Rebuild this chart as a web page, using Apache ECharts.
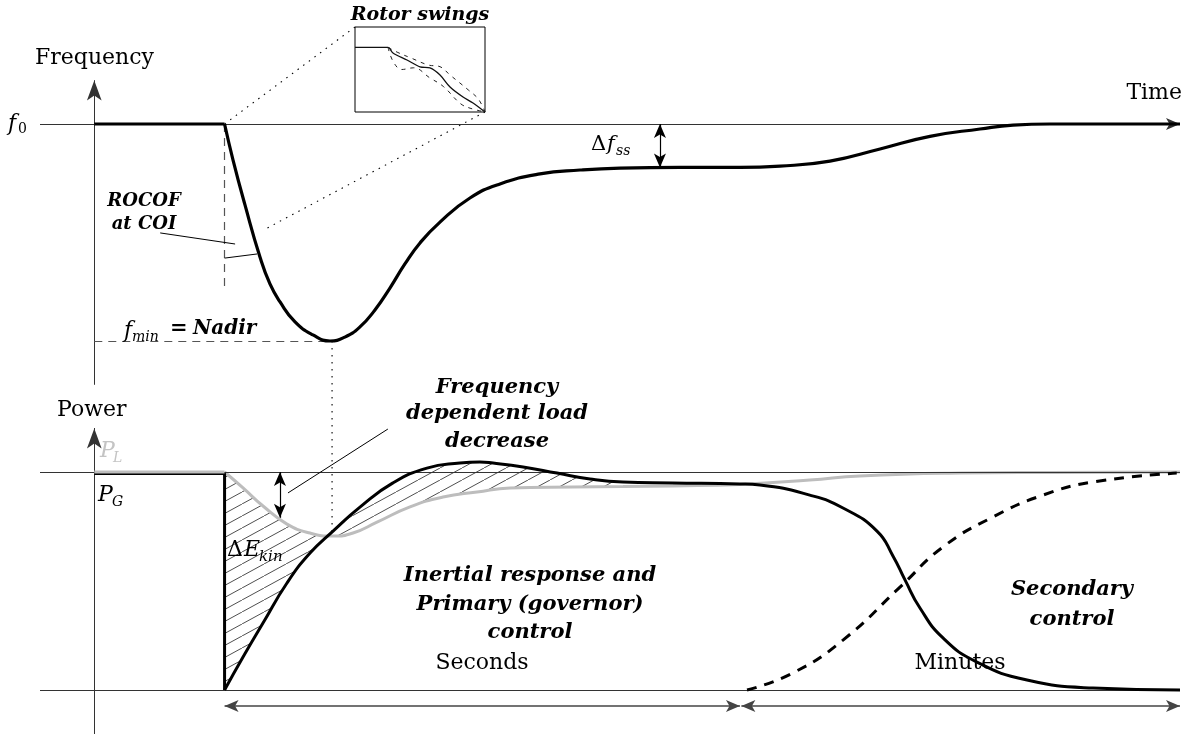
<!DOCTYPE html>
<html>
<head>
<meta charset="utf-8">
<script src="https://cdn.jsdelivr.net/npm/echarts@6/dist/echarts.min.js"></script>
<style>html,body{margin:0;padding:0;background:#fff;}</style>
</head>
<body>
<div id="main" style="width:1186px;height:742px;"></div>
<script type="text/javascript">
// time is in arbitrary units: 0 = the vertical axes, 12 = the disturbance
// frequency in Hz, power in p.u.
var freqFlat = [[0, 50], [12, 50]];
var freqCurve = [[12, 50], [12.78, 49.834], [13.88, 49.627], [15.26, 49.387], [16.18, 49.263], [17.11, 49.18],
    [18.49, 49.088], [20.14, 49.028], [21.71, 49.0], [23.08, 49.018], [24.47, 49.065], [25.85, 49.143],
    [27.23, 49.244], [28.61, 49.355], [30.0, 49.452], [31.84, 49.548], [34.6, 49.659], [37.37, 49.724],
    [41.05, 49.77], [44.74, 49.788], [48.42, 49.797], [53.95, 49.8], [59.47, 49.8], [63.16, 49.806],
    [67.76, 49.829], [72.37, 49.885], [76.97, 49.943], [81.58, 49.977], [84.62, 49.995], [88.02, 50], [100, 50]];

var loadFlat = [[0, 1], [12, 1]];
var loadCurve = [[12, 1], [13.7, 0.927], [15.54, 0.844], [17.75, 0.761], [19.87, 0.72], [21.99, 0.706],
    [23.83, 0.72], [26.04, 0.77], [29.08, 0.84], [32.12, 0.885], [35.25, 0.908], [38.29, 0.927],
    [44.09, 0.931], [48.7, 0.933], [53.3, 0.936], [59.47, 0.943], [65.9, 0.963], [70.52, 0.982],
    [79.74, 0.995], [88.02, 0.998], [100, 1]];

var genStep = [[0, 0.993], [12, 0.993], [12, 0]];
var genCurve = [[12, 0], [13.7, 0.151], [15.54, 0.307], [17.75, 0.491], [19.87, 0.628], [21.99, 0.729],
    [24.47, 0.839], [27.51, 0.95], [30.64, 1.018], [33.68, 1.041], [35.52, 1.046], [36.73, 1.041],
    [39.49, 1.023], [42.62, 0.995], [45.66, 0.968], [48.7, 0.954], [53.3, 0.95], [59.47, 0.945],
    [61.31, 0.94], [65.9, 0.894], [68.96, 0.835], [72.09, 0.729], [73.56, 0.615], [74.67, 0.505],
    [76.05, 0.376], [78.17, 0.239], [81.3, 0.128], [85.91, 0.046], [91.98, 0.009], [100, 0]];

var secondary = [[60.12, 0], [64.34, 0.078], [68.96, 0.229], [74.21, 0.472], [78.17, 0.656],
    [82.78, 0.794], [87.38, 0.894], [91.98, 0.954], [99.7, 0.995]];

// zoomed box "Rotor swings", both axes 0..1
var swingMean = [[0, 0.76], [0.254, 0.76], [0.292, 0.694], [0.4, 0.612], [0.5, 0.53], [0.577, 0.518],
    [0.654, 0.435], [0.731, 0.294], [0.831, 0.176], [0.908, 0.106], [1, 0]];
var swingA = [[0.254, 0.76], [0.295, 0.59], [0.36, 0.5], [0.45, 0.52], [0.577, 0.4], [0.68, 0.3],
    [0.81, 0.1], [0.885, 0.045], [1, 0]];
var swingB = [[0.254, 0.76], [0.33, 0.7], [0.436, 0.632], [0.564, 0.553], [0.654, 0.533],
    [0.731, 0.435], [0.872, 0.259], [0.95, 0.15], [1, 0]];

var hatchEnd = 48.7;

var myChart = echarts.init(document.getElementById('main'));

// hatch pattern for the energy areas
var hatch = document.createElement('canvas');
hatch.width = 22;
hatch.height = 12;
var hc = hatch.getContext('2d');
hc.strokeStyle = '#222';
hc.lineWidth = 0.8;
hc.beginPath();
hc.moveTo(-2, 13.1);
hc.lineTo(24, -1.1);
hc.stroke();

var serif = '"DejaVu Serif", serif';
function txt(s, x, y, font, align, color) {
    return {
        type: 'text', silent: true, z: 50,
        style: {
            text: s, x: x, y: y, font: font + ' ' + serif,
            fill: color || '#000', align: align || 'left', verticalAlign: 'middle'
        }
    };
}

function seg(a, b, extra) {
    var p = {coord: a, symbol: 'none'};
    var q = {coord: b, symbol: 'none'};
    for (var k in extra) { p[k] = extra[k]; q[k] = extra[k]; }
    return [p, q];
}

var thin = {lineStyle: {color: '#333', width: 1, type: 'solid'}};
var dashed = {lineStyle: {color: '#555', width: 1.2, type: [8, 6]}};
var black = {lineStyle: {color: '#000', width: 1, type: 'solid'}};

var topAxis = seg([-5, 50], [100, 50], thin);
topAxis[1].symbol = 'arrow';
var dfArrow = seg([52.1, 50], [52.1, 49.8], {lineStyle: {color: '#000', width: 1.2, type: 'solid'}});
dfArrow[0].symbol = 'arrow'; dfArrow[1].symbol = 'arrow';
var rocofArc = seg([12, 49.382], [14.99, 49.401], {lineStyle: {color: '#000', width: 1, type: 'solid', curveness: 0.2}});

var plArrow = seg([17.1, 1], [17.1, 0.79], {lineStyle: {color: '#000', width: 1.2, type: 'solid'}});
plArrow[0].symbol = 'arrow'; plArrow[1].symbol = 'arrow';
var secArrow = seg([12, -0.073], [59.47, -0.073], {lineStyle: {color: '#444', width: 1.5, type: 'solid'}});
secArrow[0].symbol = 'arrow'; secArrow[1].symbol = 'arrow';
var minArrow = seg([59.6, -0.073], [100, -0.073], {lineStyle: {color: '#444', width: 1.5, type: 'solid'}});
minArrow[0].symbol = 'arrow'; minArrow[1].symbol = 'arrow';

var hiddenX = {type: 'value', min: -5, max: 100, show: false};
function arrowY(min, max, grid) {
    return {
        type: 'value', min: min, max: max, gridIndex: grid,
        axisLine: {show: true, onZero: true, symbol: ['none', 'arrow'], symbolSize: [11, 20],
            lineStyle: {color: '#333', width: 1}},
        axisTick: {show: false}, axisLabel: {show: false}, splitLine: {show: false}
    };
}

var smoothK = 0.5;

option = {
    animation: false,
    backgroundColor: '#fff',
    grid: [
        {left: 40, right: 6, top: 80.6, height: 303.8},
        {left: 40, right: 6, top: 428.4, height: 305.2},
        {left: 355, top: 27, width: 130, height: 85, show: true, borderColor: '#000', borderWidth: 1}
    ],
    xAxis: [
        echarts.util.extend({gridIndex: 0}, hiddenX),
        echarts.util.extend({gridIndex: 1}, hiddenX),
        {type: 'value', gridIndex: 2, min: 0, max: 1, show: false}
    ],
    yAxis: [
        arrowY(48.8, 50.2, 0),
        arrowY(-0.2, 1.2, 1),
        {type: 'value', gridIndex: 2, min: 0, max: 1, show: false}
    ],
    series: [
        {
            name: 'guides top', type: 'line', xAxisIndex: 0, yAxisIndex: 0, data: [], clip: false,
            markLine: {
                silent: true, symbolSize: [9, 14], label: {show: false},
                data: [
                    topAxis, dfArrow,
                    seg([12, 50], [12, 49.235], dashed),
                    seg([0, 49.0], [21.71, 49.0], dashed),
                    seg([6.07, 49.498], [12.97, 49.447], black),
                    rocofArc
                ]
            }
        },
        {
            name: 'guides bottom', type: 'line', xAxisIndex: 1, yAxisIndex: 1, data: [], clip: false,
            markLine: {
                silent: true, symbolSize: [9, 14], label: {show: false},
                data: [
                    seg([-5, 1], [100, 1], thin),
                    seg([-5, 0], [100, 0], thin),
                    plArrow,
                    seg([17.84, 0.904], [27.04, 1.197], black),
                    secArrow, minArrow
                ]
            }
        },
        {
            name: 'hatch', type: 'custom', xAxisIndex: 1, yAxisIndex: 1, data: [[12, 0.5]], z: 1,
            renderItem: function (params, api) {
                var pts = [];
                loadCurve.forEach(function (d) { if (d[0] <= hatchEnd) pts.push(api.coord(d)); });
                var g = genCurve.filter(function (d) { return d[0] <= hatchEnd; });
                for (var i = g.length - 1; i >= 0; i--) pts.push(api.coord(g[i]));
                return {
                    type: 'polygon', silent: true,
                    shape: {points: pts},
                    style: {fill: {image: hatch, repeat: 'repeat'}, stroke: null}
                };
            }
        },
        {
            name: 'f flat', type: 'line', xAxisIndex: 0, yAxisIndex: 0, data: freqFlat,
            symbol: 'none', lineStyle: {color: '#000', width: 3.2}, z: 5
        },
        {
            name: 'frequency', type: 'line', xAxisIndex: 0, yAxisIndex: 0, data: freqCurve,
            symbol: 'none', smooth: smoothK, lineStyle: {color: '#000', width: 3.2}, z: 5
        },
        {
            name: 'PG step', type: 'line', xAxisIndex: 1, yAxisIndex: 1, data: genStep,
            symbol: 'none', lineStyle: {color: '#000', width: 3}, z: 5
        },
        {
            name: 'PL flat', type: 'line', xAxisIndex: 1, yAxisIndex: 1, data: loadFlat,
            symbol: 'none', lineStyle: {color: '#bdbdbd', width: 3}, z: 6
        },
        {
            name: 'PL', type: 'line', xAxisIndex: 1, yAxisIndex: 1, data: loadCurve,
            symbol: 'none', smooth: smoothK, lineStyle: {color: '#bdbdbd', width: 3}, z: 4
        },
        {
            name: 'PG', type: 'line', xAxisIndex: 1, yAxisIndex: 1, data: genCurve,
            symbol: 'none', smooth: smoothK, lineStyle: {color: '#000', width: 3}, z: 5
        },
        {
            name: 'secondary', type: 'line', xAxisIndex: 1, yAxisIndex: 1, data: secondary,
            symbol: 'none', smooth: smoothK, lineStyle: {color: '#000', width: 3, type: [10, 8]}, z: 5
        },
        {
            name: 'swing mean', type: 'line', xAxisIndex: 2, yAxisIndex: 2, data: swingMean,
            symbol: 'none', smooth: 0.3, lineStyle: {color: '#111', width: 1.3}
        },
        {
            name: 'swing a', type: 'line', xAxisIndex: 2, yAxisIndex: 2, data: swingA,
            symbol: 'none', smooth: 0.4, lineStyle: {color: '#222', width: 1, type: [4, 5]}
        },
        {
            name: 'swing b', type: 'line', xAxisIndex: 2, yAxisIndex: 2, data: swingB,
            symbol: 'none', smooth: 0.4, lineStyle: {color: '#222', width: 1, type: [4, 5]}
        }
    ]
};

myChart.setOption(option);

// connectors between panels, placed through the grids
function px(g, v) { return myChart.convertToPixel({gridIndex: g}, v); }
function dotted(a, b) {
    return {type: 'line', silent: true, z: 3,
        shape: {x1: a[0], y1: a[1], x2: b[0], y2: b[1]},
        style: {stroke: '#000', lineWidth: 1.1, lineDash: [1.5, 5.5]}};
}
var lines = [
    dotted(px(0, [12, 50]), px(2, [0, 1])),
    dotted(px(2, [1, 0]), px(0, [15.91, 49.52])),
    dotted(px(0, [21.9, 49.0]), px(1, [21.9, 0.706]))
];

var bi = 'italic bold 21px';
var texts = [
    txt('Frequency', 35, 58, '22px'),
    txt('f', 8, 124, 'italic 22px'),
    txt('0', 18, 129, '14px'),
    txt('Time', 1182, 93, '22px', 'right'),
    txt('\u0394', 591, 145, '21px'),
    txt('f', 607, 145, 'italic 21px'),
    txt('ss', 616, 151, 'italic 14px'),
    txt('Rotor swings', 420, 15, 'italic bold 19px', 'center'),
    txt('ROCOF', 144, 201, 'italic bold 18px', 'center'),
    txt('at COI', 144, 224, 'italic bold 18px', 'center'),
    txt('f', 124, 331, 'italic 22px'),
    txt('min', 132, 337, 'italic 14px'),
    txt('=', 170, 329, 'bold 21px'),
    txt('Nadir', 193, 329, 'italic bold 20px'),
    txt('Power', 57, 410, '22px'),
    txt('P', 100, 451, 'italic 22px', 'left', '#c4c4c4'),
    txt('L', 113, 458, 'italic 14px', 'left', '#c4c4c4'),
    txt('P', 98, 495, 'italic 22px'),
    txt('G', 112, 502, 'italic 14px'),
    txt('Frequency', 497, 388, bi, 'center'),
    txt('dependent load', 497, 414, bi, 'center'),
    txt('decrease', 497, 442, bi, 'center'),
    txt('\u0394', 227, 550, '22px'),
    txt('E', 244, 550, 'italic 22px'),
    txt('kin', 259, 557, 'italic 15px'),
    txt('Inertial response and', 530, 576, bi, 'center'),
    txt('Primary (governor)', 530, 605, bi, 'center'),
    txt('control', 530, 633, bi, 'center'),
    txt('Secondary', 1072, 590, bi, 'center'),
    txt('control', 1072, 620, bi, 'center'),
    txt('Seconds', 482, 663, '22px', 'center'),
    txt('Minutes', 960, 663, '22px', 'center')
];

myChart.setOption({graphic: lines.concat(texts)});
</script>
</body>
</html>
